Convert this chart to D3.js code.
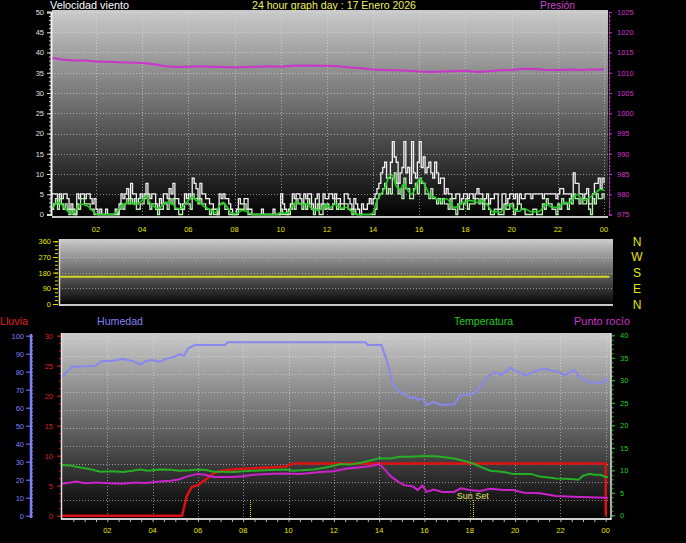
<!DOCTYPE html>
<html><head><meta charset="utf-8">
<script src="https://cdn.jsdelivr.net/npm/d3@7"></script>
<style>html,body{margin:0;padding:0;background:#000;overflow:hidden}text{font-family:"Liberation Sans",Arial,sans-serif}</style>
</head><body>
<svg id="c" width="686" height="543"></svg>
<script>
// ---------- DATA ----------
const hourTicks = [2,4,6,8,10,12,14,16,18,20,22,24];
const hourLabels = ["02","04","06","08","10","12","14","16","18","20","22","00"];
const windTicks = [0,5,10,15,20,25,30,35,40,45,50];
const pressureTicks = [975,980,985,990,995,1000,1005,1010,1015,1020,1025];
const dirTicks = [0,90,180,270,360];
const dirLabels = ["N","E","S","W","N"];
const humTicks = [0,10,20,30,40,50,60,70,80,90,100];
const rainTicks = [0,5,10,15,20,25,30];
const tempTicks = [0,5,10,15,20,25,30,35,40];

// wind gust & speed, every 5 minutes from 00:00 (km/h)
const windStepMinutes = 5;
const windGust = [
 3.9,5.1,5.1,5.1,2.6,5.1,3.9,5.1,5.1,3.9,1.3,2.6,
 1.3,0,5.1,3.9,5.1,5.1,3.9,5.1,5.1,3.9,2.6,3.9,
 1.3,0,1.3,0,0,1.3,0,0,0,0,1.3,0,
 2.6,5.1,3.9,5.1,6.4,3.9,7.7,5.1,5.1,2.6,3.9,5.1,
 3.9,5.1,7.7,5.1,3.9,5.1,5.1,2.6,1.3,3.9,2.6,5.1,
 5.1,3.9,6.4,5.1,7.7,3.9,3.9,2.6,1.3,2.6,5.1,3.9,
 5.1,3.9,9.0,7.7,6.4,3.9,7.7,5.1,5.1,3.9,3.9,2.6,
 2.6,1.3,1.3,0,5.1,3.9,5.1,3.9,3.9,2.6,1.3,0,
 0,1.3,3.9,2.6,2.6,3.9,3.9,1.3,1.3,0,0,0,
 0,0,1.3,0,0,0,0,0,1.3,0,0,0,
 5.1,2.6,1.3,0,1.3,2.6,5.1,3.9,5.1,5.1,3.9,2.6,
 5.1,3.9,5.1,5.1,2.6,1.3,3.9,5.1,1.3,2.6,5.1,3.9,
 3.9,5.1,5.1,3.9,5.1,3.9,3.9,2.6,2.6,5.1,5.1,3.9,
 2.6,1.3,3.9,2.6,1.3,0,2.6,1.3,1.3,2.6,3.9,2.6,
 3.9,5.1,6.4,7.7,10.3,11.6,12.9,9.0,9.0,12.9,18.0,14.2,
 12.9,7.7,10.3,11.6,18.0,10.3,11.6,7.7,18.0,10.3,9.0,12.9,
 18.0,11.6,14.2,10.3,11.6,12.9,10.3,9.0,12.9,10.3,7.7,9.0,
 9.0,5.1,6.4,5.1,5.1,3.9,3.9,5.1,5.1,2.6,3.9,5.1,
 5.1,3.9,5.1,5.1,3.9,5.1,6.4,5.1,5.1,2.6,3.9,5.1,
 2.6,3.9,3.9,5.1,5.1,1.3,1.3,5.1,5.1,2.6,3.9,5.1,
 5.1,3.9,5.1,2.6,5.1,3.9,3.9,5.1,5.1,5.1,3.9,5.1,
 5.1,5.1,5.1,5.1,3.9,5.1,5.1,5.1,5.1,5.1,5.1,3.9,
 5.1,6.4,6.4,5.1,5.1,5.1,5.1,3.9,10.3,7.7,7.7,5.1,
 5.1,3.9,5.1,6.4,2.6,2.6,5.1,7.7,7.7,9.0,6.4,9.0,
 7.7];
const windSpeed = [
 1.3,1.3,2.6,3.9,1.3,3.9,2.6,1.3,2.6,1.3,0,1.3,
 0,0,2.6,1.3,3.9,3.9,2.6,2.6,2.6,1.3,1.3,0,
 0,0,0,0,0,0,0,0,0,0,0,0,
 1.3,2.6,1.3,2.6,3.9,2.6,3.9,2.6,3.9,1.3,1.3,2.6,
 2.6,3.9,5.1,2.6,1.3,2.6,2.6,1.3,0,1.3,1.3,2.6,
 2.6,1.3,3.9,2.6,3.9,1.3,1.3,0,0,1.3,2.6,2.6,
 2.6,1.3,5.1,3.9,3.9,2.6,3.9,2.6,2.6,1.3,1.3,0,
 1.3,0,0,0,2.6,2.6,2.6,1.3,1.3,0,0,0,
 0,0,1.3,1.3,1.3,2.6,1.3,0,0,0,0,0,
 0,0,0,0,0,0,0,0,0,0,0,0,
 1.3,0,0,0,0,1.3,2.6,1.3,3.9,2.6,2.6,1.3,
 2.6,1.3,3.9,2.6,1.3,0,1.3,2.6,0,0,2.6,1.3,
 2.6,1.3,1.3,2.6,3.9,1.3,2.6,1.3,1.3,2.6,2.6,1.3,
 1.3,0,1.3,0,0,0,0,0,0,0,0,0,
 0,1.3,3.9,5.1,5.1,6.4,7.7,5.1,6.4,5.1,9.0,10.3,
 7.7,5.1,6.4,3.9,9.0,6.4,6.4,3.9,3.9,6.4,7.7,5.1,
 9.0,7.7,7.7,5.1,5.1,3.9,6.4,3.9,3.9,2.6,3.9,2.6,
 3.9,2.6,2.6,1.3,3.9,1.3,1.3,0,2.6,1.3,1.3,2.6,
 3.9,1.3,2.6,2.6,2.6,3.9,3.9,2.6,3.9,1.3,2.6,2.6,
 1.3,0,0,1.3,1.3,0,0,0,2.6,1.3,1.3,2.6,
 2.6,0,1.3,2.6,2.6,1.3,1.3,0,0,0,0,1.3,
 1.3,0,0,0,2.6,1.3,3.9,2.6,2.6,1.3,1.3,0,
 2.6,1.3,3.9,2.6,2.6,1.3,3.9,2.6,5.1,3.9,3.9,2.6,
 3.9,2.6,2.6,3.9,1.3,0,3.9,2.6,5.1,3.9,3.9,5.1,
 3.9];
// average wind, every 10 minutes from 00:00 (km/h)
const avgStepMinutes = 10;
const windAvg = [
 1.0,2.0,3.0,2.5,1.5,0.5, 0.3,1.5,2.6,2.4,2.0,1.0, 0.2,0,0,0,0,0.3,
 1.5,2.5,2.8,3.0,2.5,2.8, 3.5,4.5,3.0,2.0,1.5,2.0, 3.0,3.0,2.5,1.5,1.5,2.5,
 3.5,4.3,3.5,3.0,2.0,1.5, 1.0,0.5,2.0,3.0,2.0,0.5, 0.2,0.5,1.0,0.8,0.3,0,
 0,0,0,0,0,0, 0.5,0.3,0.5,2.0,3.0,2.8, 2.5,2.5,1.5,1.2,1.0,2.0,
 2.2,1.8,2.5,2.0,1.5,1.8, 1.0,0.3,0,0,0,0, 0.5,3.5,5.0,6.5,9.0,9.7,
 7.0,6.2,7.6,6.0,5.0,6.5, 8.8,8.0,6.2,4.5,4.3,3.5, 3.5,3.9,3.0,1.8,2.0,3.0,
 3.0,3.5,3.3,3.0,3.5,3.0, 2.0,0.7,0.7,0.5,1.5,2.3, 2.0,1.0,0.8,1.5,1.2,0.7,
 0.7,0.7,1.5,2.6,2.0,1.8, 1.8,2.5,3.0,2.8,4.0,5.0, 4.0,3.5,4.0,4.7,5.5,6.2, 6.0];

// pressure, every 30 minutes from 00:00 (hPa)
const pressureStepMinutes = 30;
const pressure = [1013.8,1013.3,1013.0,1013.0,1012.8,1012.7,1012.6,1012.5,1012.4,1012.1,
 1011.6,1011.4,1011.5,1011.6,1011.5,1011.4,1011.3,1011.4,1011.5,1011.6,
 1011.5,1011.7,1011.8,1011.7,1011.7,1011.6,1011.3,1011.1,1010.8,1010.7,
 1010.6,1010.5,1010.3,1010.2,1010.3,1010.4,1010.5,1010.2,1010.4,1010.6,
 1010.7,1011.0,1010.9,1010.7,1010.7,1010.8,1010.7,1010.8,1010.8];

// wind direction (degrees), hourly
const windDir = [156,156,156,156,156,156,156,156,156,156,156,156,156,156,156,156,156,156,156,156,156,156,156,156,156];

// bottom panel: [hour, value]
const humidity = [[0,77],[0.45,82.8],[1.0,83],[1.46,83.3],[1.77,86],[2.2,86],[2.7,87],[3.1,86],[3.47,84],[3.7,86],[3.93,86.5],[4.33,85.5],[4.55,87],[4.9,88],[5.17,89.6],[5.4,89],[5.56,93],[5.87,94.8],[7.2,94.8],[7.3,96.3],[13.4,96.3],[13.5,94.8],[14.1,94.8],[14.4,83.7],[14.6,72.6],[14.9,68.9],[15.2,67],[15.4,65.2],[15.6,66],[15.7,64.3],[15.9,65],[16.1,61.5],[16.4,63.3],[16.6,62],[16.8,61.5],[17.3,61.9],[17.6,67],[18.0,67.4],[18.2,68],[18.4,70.7],[18.8,77.2],[19.1,79.7],[19.4,78.3],[19.8,82.2],[20.0,80.4],[20.5,78],[20.9,80.4],[21.35,81.9],[21.6,80.5],[21.9,80],[22.2,78],[22.6,81],[22.9,76.6],[23.3,74],[23.9,74],[24.0,75.6],[24.1,75.6]];
const temperature = [[0,11.2],[0.4,11.0],[0.8,10.6],[1.2,10.3],[1.7,9.7],[2.2,9.8],[2.7,9.6],[3.1,9.9],[3.44,10.2],[3.8,9.9],[4.3,10.2],[4.8,10.1],[5.2,9.9],[5.6,10.0],[6.1,10.2],[6.4,10.0],[6.7,9.7],[7.1,9.7],[7.55,9.6],[8.0,9.8],[8.45,9.9],[9.0,10.0],[9.5,10.1],[9.9,10.2],[10.2,9.9],[10.6,10.0],[11.1,10.2],[11.5,10.5],[11.8,10.8],[12.3,11.4],[12.7,11.3],[13.2,11.7],[13.7,12.3],[14.0,12.7],[14.5,12.6],[14.9,13.0],[15.4,13.0],[15.9,13.2],[16.5,13.1],[16.9,12.9],[17.3,12.6],[17.9,11.9],[18.2,11.4],[18.45,10.8],[18.9,9.9],[19.5,9.6],[19.9,9.2],[20.3,9.2],[20.7,9.2],[21.1,8.6],[21.5,8.4],[21.8,8.2],[22.2,8.1],[22.6,8.0],[22.8,7.9],[23.0,8.8],[23.3,9.2],[23.5,9.0],[23.75,9.0],[24.0,8.5],[24.1,8.5]];
const dewPoint = [[0,7.0],[0.65,7.5],[1.0,7.1],[1.5,7.3],[2.1,7.1],[2.7,7.0],[3.2,7.3],[3.7,7.2],[4.3,7.5],[4.8,7.7],[5.2,8.0],[5.5,8.6],[6.0,9.2],[6.3,9.0],[6.7,8.5],[7.1,8.5],[7.55,8.5],[8.0,8.7],[8.45,9.0],[9.1,9.2],[9.77,9.3],[10.5,9.2],[11.0,9.4],[11.4,9.6],[12.0,9.8],[12.3,10.1],[12.6,10.4],[13.2,10.7],[13.7,11.0],[14.0,11.4],[14.26,10.1],[14.5,8.7],[14.8,7.6],[15.1,6.7],[15.5,6.4],[15.7,5.6],[15.9,6.6],[16.1,5.2],[16.4,5.7],[16.8,5.2],[17.3,5.2],[17.6,6.0],[18.0,5.6],[18.45,5.4],[18.9,5.9],[19.5,5.6],[19.9,5.6],[20.4,5.0],[21.1,4.9],[21.8,4.3],[22.6,4.1],[23.3,4.0],[24.0,3.9],[24.1,3.9]];
const rain = [[0,0],[5.3,0],[5.5,3.2],[5.73,4.8],[6.0,5.1],[6.4,6.2],[6.7,7.1],[7.05,7.5],[7.5,7.7],[8.45,7.9],[9.9,8.2],[10.2,8.7],[24.0,8.7],[24.0,0]];
const sunrise = 8.3, sunset = 18.13;

// ---------- DRAW ----------
const svg = d3.select("#c");
const defs = svg.append("defs");
const g = defs.append("linearGradient").attr("id","bg").attr("x1",0).attr("y1",0).attr("x2",0).attr("y2",1);
g.append("stop").attr("offset","0").attr("stop-color","#cbcbcb");
g.append("stop").attr("offset","1").attr("stop-color","#000");

const YEL = "#e6e600", GRID = "#e8e8e8";
function clip(id,x,y,w,h){defs.append("clipPath").attr("id",id).append("rect").attr("x",x).attr("y",y).attr("width",w).attr("height",h);}
function styleAxis(sel,color,lineColor){
  sel.selectAll("text").attr("fill",color).style("font-size","7.5px");
  sel.selectAll("line").attr("stroke",color);
  sel.select(".domain").attr("stroke",lineColor||color);
}
function minor(sel){sel.selectAll("text").remove(); sel.select(".domain").remove();}

// ===== TOP PANEL =====
const T = {x0:52,x1:608,y0:10,y1:217};
const xTop = d3.scaleLinear().domain([0.1,24.15]).range([52.1,607.5]);
const yWind = d3.scaleLinear().domain([0,50]).range([214.5,12]);
const yPres = d3.scaleLinear().domain([975,1025]).range([214.5,12]);
svg.append("rect").attr("x",T.x0).attr("y",T.y0).attr("width",T.x1-T.x0).attr("height",T.y1-T.y0).attr("fill","url(#bg)");
const gridT = svg.append("g").attr("stroke",GRID).attr("stroke-opacity",0.55).attr("stroke-dasharray","1,2").attr("shape-rendering","crispEdges");
windTicks.slice(1).forEach(v=>gridT.append("line").attr("x1",T.x0).attr("x2",T.x1).attr("y1",Math.round(yWind(v))+0.5).attr("y2",Math.round(yWind(v))+0.5));
hourTicks.forEach(h=>gridT.append("line").attr("y1",T.y0).attr("y2",T.y1).attr("x1",Math.round(xTop(h))+0.5).attr("x2",Math.round(xTop(h))+0.5));
clip("cT",T.x0,T.y0,T.x1-T.x0,T.y1-T.y0);
const pT = svg.append("g").attr("clip-path","url(#cT)");
const lineW = d3.line().x((d,i)=>xTop(i*windStepMinutes/60)).y(d=>yWind(d)).curve(d3.curveStepAfter);
pT.append("path").datum(windGust).attr("d",lineW).attr("fill","none").attr("stroke","#f2f2f2").attr("stroke-width",1.3);
pT.append("path").datum(windSpeed).attr("d",lineW).attr("fill","none").attr("stroke","#b8f0b0").attr("stroke-width",1.3);
pT.append("path").datum(windAvg).attr("d",d3.line().x((d,i)=>xTop(i*avgStepMinutes/60)).y(d=>yWind(d)).curve(d3.curveMonotoneX)).attr("fill","none").attr("stroke","#22cc22").attr("stroke-width",1.6);
pT.append("path").datum(pressure).attr("d",d3.line().x((d,i)=>xTop(i*pressureStepMinutes/60)).y(d=>yPres(d))).attr("fill","none").attr("stroke","#cc33cc").attr("stroke-width",2);
svg.append("line").attr("x1",T.x0).attr("x2",T.x1).attr("y1",T.y1).attr("y2",T.y1).attr("stroke","#c8c8c8").attr("stroke-width",2);
const axL = svg.append("g").attr("transform","translate(51,0)").call(d3.axisLeft(yWind).tickValues(windTicks).tickSize(4).tickPadding(3));
styleAxis(axL,"#e0e0e0","#f0f0f0"); axL.select(".domain").attr("stroke-width",2);
const axLm = svg.append("g").attr("transform","translate(51,0)").call(d3.axisLeft(yWind).tickValues(d3.range(0,51,1)).tickSize(2).tickFormat(""));
minor(axLm); axLm.selectAll("line").attr("stroke","#d0d0d0");
const axR = svg.append("g").attr("transform","translate(609,0)").call(d3.axisRight(yPres).tickValues(pressureTicks).tickSize(3).tickPadding(5).tickFormat(d3.format("d")));
styleAxis(axR,"#cc33cc"); axR.select(".domain").attr("stroke-dasharray","2,1");
const axRm = svg.append("g").attr("transform","translate(609,0)").call(d3.axisRight(yPres).tickValues(d3.range(975,1026,1)).tickSize(1.5).tickFormat(""));
minor(axRm); axRm.selectAll("line").attr("stroke","#cc33cc");
svg.append("g").selectAll("text").data(hourTicks).join("text").attr("x",d=>xTop(d)).attr("y",232).attr("text-anchor","middle").attr("fill",YEL).style("font-size","7.5px").text((d,i)=>hourLabels[i]);

svg.append("text").attr("x",50).attr("y",9).attr("fill","#fff").style("font-size","11px").attr("textLength",79).attr("lengthAdjust","spacingAndGlyphs").text("Velocidad viento");
svg.append("text").attr("x",252).attr("y",9).attr("fill","#f0f060").style("font-size","11px").attr("textLength",164).attr("lengthAdjust","spacingAndGlyphs").text("24 hour graph day : 17 Enero 2026");
svg.append("text").attr("x",540).attr("y",9).attr("fill","#cc44cc").style("font-size","11px").attr("textLength",35).attr("lengthAdjust","spacingAndGlyphs").text("Presión");

// ===== MIDDLE PANEL =====
const M = {x0:59,x1:613,y0:239,y1:306};
const xMid = d3.scaleLinear().domain([0.1,24.15]).range([59,613]);
const yDir = d3.scaleLinear().domain([0,360]).range([304,241.3]);
svg.append("rect").attr("x",M.x0).attr("y",M.y0).attr("width",M.x1-M.x0).attr("height",M.y1-M.y0).attr("fill","url(#bg)");
const gridM = svg.append("g").attr("stroke",GRID).attr("stroke-opacity",0.55).attr("stroke-dasharray","1,2").attr("shape-rendering","crispEdges");
[90,180,270,360].forEach(v=>gridM.append("line").attr("x1",M.x0).attr("x2",M.x1).attr("y1",Math.round(yDir(v))+0.5).attr("y2",Math.round(yDir(v))+0.5));
svg.append("line").attr("x1",M.x0).attr("x2",M.x1).attr("y1",305).attr("y2",305).attr("stroke","#c8c8c8").attr("stroke-width",2);
svg.append("line").attr("x1",M.x0+0.5).attr("x2",M.x0+0.5).attr("y1",M.y0).attr("y2",M.y1).attr("stroke","#d8d8d8").attr("stroke-width",1.5);
svg.append("path").datum(windDir).attr("d",d3.line().x((d,i)=>xMid(Math.min(24.15,Math.max(0.1,i)))).y(d=>yDir(d))).attr("fill","none").attr("stroke","#d8d820").attr("stroke-width",2);
const axD = svg.append("g").attr("transform","translate(58,0)").call(d3.axisLeft(yDir).tickValues(dirTicks).tickSize(5).tickPadding(2));
styleAxis(axD,YEL); axD.select(".domain").remove();
const axDm = svg.append("g").attr("transform","translate(58,0)").call(d3.axisLeft(yDir).tickValues(d3.range(0,361,22.5)).tickSize(3).tickFormat(""));
minor(axDm); axDm.selectAll("line").attr("stroke",YEL);
svg.append("g").selectAll("text").data(dirTicks).join("text").attr("x",637).attr("y",d=>yDir(d)+4.5).attr("text-anchor","middle").attr("fill",YEL).style("font-size","12px").text((d,i)=>dirLabels[i]);

// legend row
svg.append("text").attr("x",0).attr("y",325).attr("fill","#e02020").style("font-size","11px").attr("textLength",28).attr("lengthAdjust","spacingAndGlyphs").text("Lluvia");
svg.append("text").attr("x",97).attr("y",325).attr("fill","#8080f0").style("font-size","11px").attr("textLength",46).attr("lengthAdjust","spacingAndGlyphs").text("Humedad");
svg.append("text").attr("x",454).attr("y",325).attr("fill","#22cc22").style("font-size","11px").attr("textLength",59).attr("lengthAdjust","spacingAndGlyphs").text("Temperatura");
svg.append("text").attr("x",574).attr("y",325).attr("fill","#cc33cc").style("font-size","11px").attr("textLength",56).attr("lengthAdjust","spacingAndGlyphs").text("Punto rocío");

// ===== BOTTOM PANEL =====
const B = {x0:61,x1:611,y0:333,y1:519};
const xBot = d3.scaleLinear().domain([0,24]).range([62,605.7]);
const yHum = d3.scaleLinear().domain([0,100]).range([515.7,335.7]);
const yRain = d3.scaleLinear().domain([0,30]).range([515.7,335.7]);
const yTemp = d3.scaleLinear().domain([0,40]).range([515.3,335.3]);
svg.append("rect").attr("x",B.x0).attr("y",B.y0).attr("width",B.x1-B.x0).attr("height",B.y1-B.y0).attr("fill","url(#bg)");
const gridB = svg.append("g").attr("stroke",GRID).attr("stroke-opacity",0.55).attr("stroke-dasharray","1,2").attr("shape-rendering","crispEdges");
humTicks.slice(1).forEach(v=>gridB.append("line").attr("x1",B.x0).attr("x2",B.x1).attr("y1",Math.round(yHum(v))+2.5).attr("y2",Math.round(yHum(v))+2.5));
hourTicks.forEach(h=>gridB.append("line").attr("y1",B.y0).attr("y2",B.y1).attr("x1",Math.round(xBot(h))+0.5).attr("x2",Math.round(xBot(h))+0.5));
clip("cB",B.x0,B.y0,B.x1-B.x0,B.y1-B.y0);
const pB = svg.append("g").attr("clip-path","url(#cB)");
const lp = (ys)=>d3.line().x(d=>xBot(d[0])).y(d=>ys(d[1]));
pB.append("path").datum(humidity).attr("d",lp(yHum)).attr("fill","none").attr("stroke","#8888f0").attr("stroke-width",2);
pB.append("path").datum(rain).attr("d",lp(yRain)).attr("fill","none").attr("stroke","#dd1111").attr("stroke-width",2.5);
pB.append("path").datum(temperature).attr("d",lp(yTemp)).attr("fill","none").attr("stroke","#22bb22").attr("stroke-width",2).attr("stroke-opacity",0.9);
pB.append("path").datum(dewPoint).attr("d",lp(yTemp)).attr("fill","none").attr("stroke","#cc22cc").attr("stroke-width",2);
[sunrise,sunset].forEach(h=>svg.append("line").attr("x1",Math.round(xBot(h))+0.5).attr("x2",Math.round(xBot(h))+0.5).attr("y1",500).attr("y2",519).attr("stroke","#e8e800").attr("stroke-dasharray","1,1"));
svg.append("text").attr("x",xBot(sunset)).attr("y",498.5).attr("text-anchor","middle").attr("fill","#e0e070").style("font-size","9px").text("Sun Set");
svg.append("line").attr("x1",B.x0).attr("x2",B.x1).attr("y1",B.y1).attr("y2",B.y1).attr("stroke","#d0d0d0").attr("stroke-width",2);
svg.append("line").attr("x1",B.x0+0.5).attr("x2",B.x0+0.5).attr("y1",B.y0).attr("y2",B.y1).attr("stroke","#e0e0e0").attr("stroke-width",1.5);
svg.append("line").attr("x1",B.x1).attr("x2",B.x1).attr("y1",B.y0).attr("y2",B.y1+1).attr("stroke","#e0e0e0").attr("stroke-width",1.5);
const axXm = svg.append("g").attr("transform","translate(0,520)").call(d3.axisBottom(xBot).tickValues(d3.range(0.5,24.1,0.5)).tickSize(2).tickFormat(""));
minor(axXm); axXm.selectAll("line").attr("stroke","#bbbbbb");
svg.append("g").selectAll("text").data(hourTicks).join("text").attr("x",d=>xBot(d)).attr("y",533).attr("text-anchor","middle").attr("fill",YEL).style("font-size","7.5px").text((d,i)=>hourLabels[i]);
const axRain = svg.append("g").attr("transform","translate(61,0)").call(d3.axisLeft(yRain).tickValues(rainTicks).tickSize(4).tickPadding(4));
styleAxis(axRain,"#dd2222"); axRain.select(".domain").remove();
const axRainM = svg.append("g").attr("transform","translate(61,0)").call(d3.axisLeft(yRain).tickValues(d3.range(0,30.1,1.25)).tickSize(2).tickFormat(""));
minor(axRainM); axRainM.selectAll("line").attr("stroke","#dd2222");
const axHum = svg.append("g").attr("transform","translate(31,0)").call(d3.axisLeft(yHum).tickValues(humTicks).tickSize(5).tickPadding(2));
styleAxis(axHum,"#7f7fff"); axHum.select(".domain").attr("stroke-width",2.5).attr("d","M0,334V518");
const axHumM = svg.append("g").attr("transform","translate(31,0)").call(d3.axisRight(yHum).tickValues(d3.range(0,101,2)).tickSize(2).tickFormat(""));
minor(axHumM); axHumM.selectAll("line").attr("stroke","#7f7fff");
const axTemp = svg.append("g").attr("transform","translate(612,0)").call(d3.axisRight(yTemp).tickValues(tempTicks).tickSize(3).tickPadding(5));
styleAxis(axTemp,"#22cc22"); axTemp.select(".domain").remove();
const axTempM = svg.append("g").attr("transform","translate(612,0)").call(d3.axisRight(yTemp).tickValues(d3.range(0,40.1,1)).tickSize(1.5).tickFormat(""));
minor(axTempM); axTempM.selectAll("line").attr("stroke","#22cc22");
</script>
</body></html>
